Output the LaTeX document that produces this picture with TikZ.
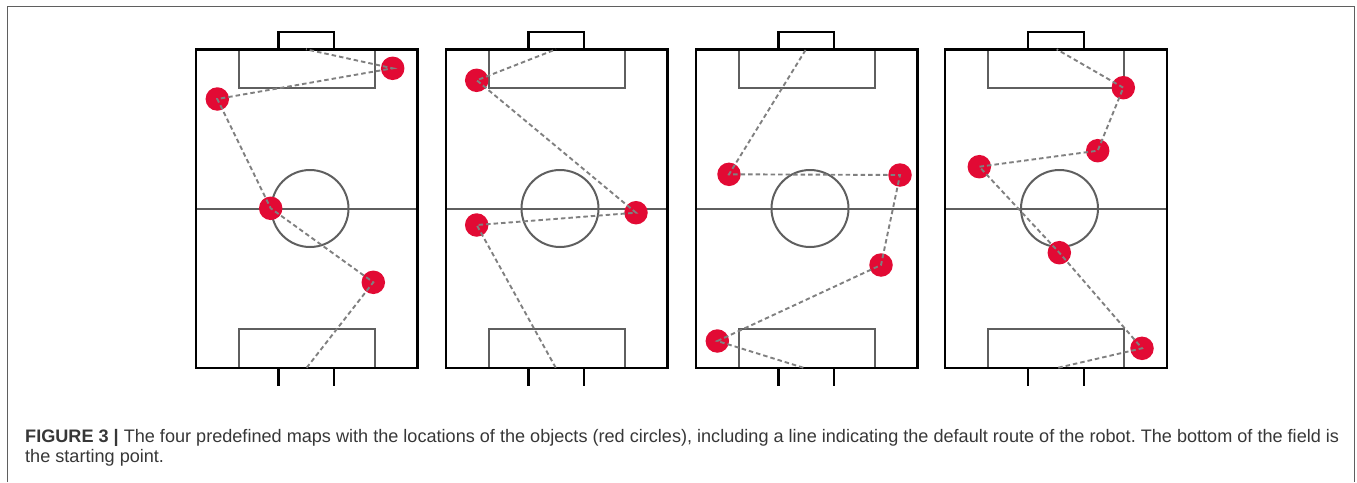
\documentclass[tikz,border=0pt]{standalone}
\usepackage{fontspec}
\setmainfont{Liberation Sans}
\usepackage{tikz}

\definecolor{objred}{RGB}{226,10,52}
\definecolor{routegray}{RGB}{128,128,128}
\definecolor{linegray}{RGB}{95,95,95}
\definecolor{captext}{RGB}{55,55,55}

\begin{document}
\begin{tikzpicture}[x=1pt, y=-1pt]
        \useasboundingbox (0,0) rectangle (1357,482);
        \tikzset{obj/.style={circle, fill=objred, minimum size=23.5pt, inner sep=0pt}}
        \tikzset{route/.style={routegray, line width=1.9pt, dash pattern=on 4.5pt off 3pt}}
        \tikzset{pitchline/.style={black, line width=2.4pt}}
        \tikzset{markline/.style={linegray, line width=2pt}}
        % frame
        \draw[linegray, line width=1.4pt] (7.5,482) -- (7.5,6.5) -- (1354.5,6.5) -- (1354.5,482);
        % the four pitches
        \foreach \dx in {0,250,500,749.5} {
          \begin{scope}[xshift=\dx pt]
            \draw[markline] (238.5,49.3) rectangle (374.5,87.7);
            \draw[markline] (238.5,329.3) rectangle (374.5,367.7);
            \draw[markline] (195.7,208.5) -- (417.3,208.5);
            \draw[markline] (310,208.5) circle (38.5);
            \draw[pitchline] (195.7,49.3) rectangle (417.3,367.7);
            \draw[pitchline] (278.5,49.3) -- (278.5,31.7) -- (334.2,31.7) -- (334.2,49.3);
            \draw[pitchline] (278.5,367.7) -- (278.5,386) (334.2,367.7) -- (334.2,386);
          \end{scope}
        }
        % map 1
        \coordinate (s1) at (306.7,367.7);
        \coordinate (e1) at (306,49.3);
        \node[obj] (p1a) at (373.3,282.3) {};
        \node[obj] (p1b) at (270.7,208.3) {};
        \node[obj] (p1c) at (217.3,99) {};
        \node[obj] (p1d) at (392.7,68.3) {};
        \draw[route] (s1) -- (p1a.center) -- (p1b.center) -- (p1c.center) -- (p1d.center) -- (e1);
        % map 2
        \coordinate (s2) at (555.7,367.7);
        \coordinate (e2) at (556,49.3);
        \node[obj] (p2a) at (476.7,225) {};
        \node[obj] (p2b) at (636,212.7) {};
        \node[obj] (p2c) at (476.7,80.3) {};
        \draw[route] (s2) -- (p2a.center) -- (p2b.center) -- (p2c.center) -- (e2);
        % map 3
        \coordinate (s3) at (803.3,367.7);
        \coordinate (e3) at (806,49.3);
        \node[obj] (p3a) at (717.3,341) {};
        \node[obj] (p3b) at (881,265) {};
        \node[obj] (p3c) at (900,175) {};
        \node[obj] (p3d) at (729,174.3) {};
        \draw[route] (s3) -- (p3a.center) -- (p3b.center) -- (p3c.center) -- (p3d.center) -- (e3);
        % map 4
        \coordinate (s4) at (1058.3,367.7);
        \coordinate (e4) at (1056.7,49.3);
        \node[obj] (p4a) at (1142,348.3) {};
        \node[obj] (p4b) at (1059.3,252.7) {};
        \node[obj] (p4c) at (979.3,166.7) {};
        \node[obj] (p4d) at (1097.7,150.7) {};
        \node[obj] (p4e) at (1123.3,87.7) {};
        \draw[route] (s4) -- (p4a.center) -- (p4b.center) -- (p4c.center) -- (p4d.center) -- (p4e.center) -- (e4);
        % caption
        \node[anchor=base west, inner sep=0pt, align=left, text=captext,
              font=\fontsize{18.1}{19.5}\selectfont\frenchspacing] (cap) at (25,462.2)
          {\textbf{FIGURE 3 |} The four predefined maps with the locations of the objects (red circles), including a line indicating the default route of the robot. The bottom of the field is\\
           the starting point.};
      \end{tikzpicture}
\end{document}
